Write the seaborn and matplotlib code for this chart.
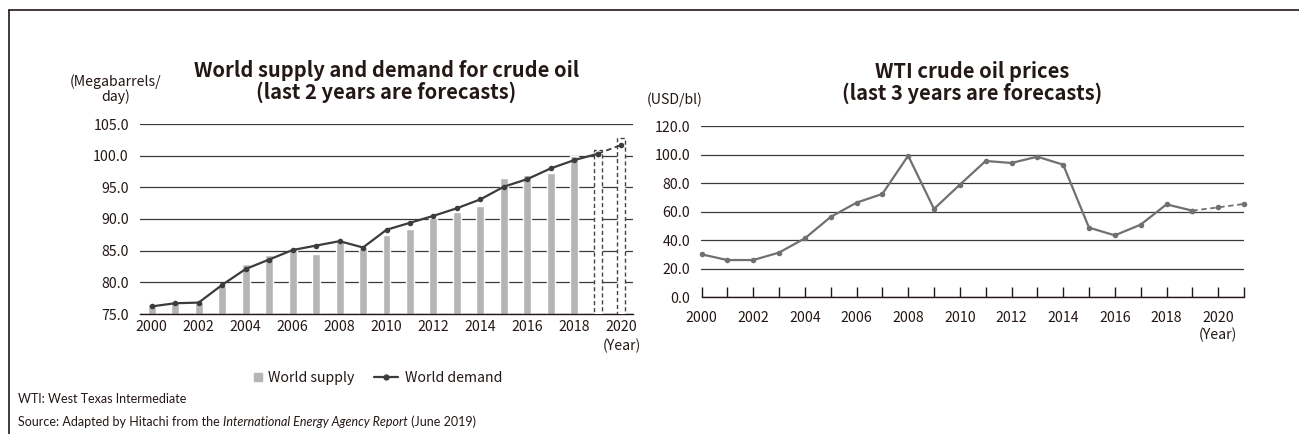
import numpy as np
import seaborn as sns
import matplotlib.pyplot as plt
from matplotlib.lines import Line2D

# data
years = list(range(2000, 2019))
supply = [76.6, 76.8, 76.7, 79.5, 82.9, 84.3, 85.3, 84.4, 86.3, 85.4,
          87.4, 88.5, 90.1, 91.1, 92.1, 96.4, 96.9, 97.3, 99.9]
forecast_years = [2019, 2020]
supply_forecast = [100.9, 102.8]
demand_years = list(range(2000, 2021))
demand = [76.2, 76.7, 76.8, 79.6, 82.1, 83.6, 85.1, 85.8, 86.5, 85.5, 88.3,
          89.4, 90.5, 91.7, 93.1, 95.1, 96.3, 98.0, 99.3, 100.3, 101.7]
price_years = list(range(2000, 2022))
price = [30.1, 26.1, 26.1, 31.3, 41.3, 56.3, 66.3, 72.4, 99.2, 61.9, 78.9,
         95.5, 94.1, 98.5, 92.9, 48.8, 43.4, 50.9, 65.1, 60.7, 63.0, 65.4]
first_forecast = 2019

sns.set_theme(style="white")
plt.rcParams['font.family'] = ['Noto Sans CJK JP', 'DejaVu Sans']
plt.rcParams['text.color'] = '#231815'
plt.rcParams['xtick.color'] = '#231815'
plt.rcParams['ytick.color'] = '#231815'

W, H = 1299, 434
fig = plt.figure(figsize=(W / 100, H / 100), dpi=100)


def box(x0, y0, x1, y1):
    return [x0 / W, 1 - y1 / H, (x1 - x0) / W, (y1 - y0) / H]


def fx(x):
    return x / W


def fy(y):
    return 1 - y / H


grid_c = '#3a3a3a'
dark = '#3c3c3c'
fs = 10.2

# ---- left chart: supply and demand
ax1 = fig.add_axes(box(140, 124, 633, 314))
sns.barplot(x=years, y=supply, native_scale=True, width=0.34,
            color='#b5b5b5', saturation=1, ax=ax1, zorder=2)
sns.barplot(x=forecast_years, y=supply_forecast, native_scale=True, width=0.34,
            color='white', saturation=1, ax=ax1, zorder=3)
for p in ax1.patches[len(years):]:
    p.set_edgecolor('#444444')
    p.set_linewidth(1.0)
    p.set_linestyle((0, (3, 2)))
    p.set_facecolor('white')

n = demand_years.index(first_forecast)
sns.lineplot(x=demand_years[:n + 1], y=demand[:n + 1], color=dark, lw=1.6,
             marker='o', markersize=4, markeredgewidth=0, ax=ax1, zorder=5)
sns.lineplot(x=demand_years[n:], y=demand[n:], color=dark, lw=1.3,
             linestyle=(0, (3, 2)), marker='o', markersize=4,
             markeredgewidth=0, ax=ax1, zorder=5)

ax1.set_xlim(1999.5, 2020.5)
ax1.set_ylim(75, 105)
ax1.set_yticks(np.arange(75, 106, 5))
ax1.set_yticklabels([f'{v:.1f}' for v in np.arange(75, 106, 5)])
ax1.set_xticks(range(2000, 2021, 2))
ax1.set_xticklabels([str(y) for y in range(2000, 2021, 2)])
ax1.tick_params(axis='both', length=0, labelsize=fs)
ax1.tick_params(axis='x', pad=4.5)
ax1.tick_params(axis='y', pad=8)
ax1.yaxis.grid(True, color=grid_c, lw=0.9)
ax1.set_axisbelow(True)
for s in ['top', 'right', 'left']:
    ax1.spines[s].set_visible(False)
ax1.spines['bottom'].set_color('#231815')
ax1.spines['bottom'].set_linewidth(1.0)
ax1.set_xlabel('')
ax1.set_ylabel('')

# ---- right chart: WTI price
ax2 = fig.add_axes(box(701.5, 126, 1244, 297.3))
m = price_years.index(first_forecast)
grey = '#707070'
sns.lineplot(x=price_years[:m + 1], y=price[:m + 1], color=grey, lw=1.6,
             marker='o', markersize=4, markeredgewidth=0, ax=ax2,
             zorder=5, clip_on=False)
sns.lineplot(x=price_years[m:], y=price[m:], color=grey, lw=1.3,
             linestyle=(0, (3, 2)), marker='o', markersize=4,
             markeredgewidth=0, ax=ax2, zorder=5, clip_on=False)
ax2.set_xlim(2000, 2021)
ax2.set_ylim(0, 120)
ax2.set_yticks(np.arange(0, 121, 20))
ax2.set_yticklabels([f'{v:.1f}' for v in np.arange(0, 121, 20)])
ax2.set_xticks(price_years)
ax2.set_xticklabels([str(y) if (y % 2 == 0 and y <= 2020) else ''
                     for y in price_years])
ax2.tick_params(axis='y', length=0, labelsize=fs, pad=8)
ax2.tick_params(axis='x', direction='in', length=7, width=1,
                color='#231815', labelsize=fs, pad=10, bottom=True)
ax2.yaxis.grid(True, color=grid_c, lw=0.9)
ax2.set_axisbelow(True)
for s in ['top', 'right', 'left']:
    ax2.spines[s].set_visible(False)
ax2.spines['bottom'].set_color('#231815')
ax2.spines['bottom'].set_linewidth(1.0)
ax2.set_xlabel('')
ax2.set_ylabel('')

# ---- titles and unit labels
fig.text(fx(386.5), fy(81.5),
         'World supply and demand for crude oil\n(last 2 years are forecasts)',
         ha='center', va='center', ma='center', fontsize=14.5,
         fontweight='bold', linespacing=1.0)
fig.text(fx(972.5), fy(82.5),
         'WTI crude oil prices\n(last 3 years are forecasts)',
         ha='center', va='center', ma='center', fontsize=14.5,
         fontweight='bold', linespacing=1.0)
fig.text(fx(116), fy(89), '(Megabarrels/\nday)', ha='center', va='center',
         ma='center', fontsize=fs, linespacing=1.0)
fig.text(fx(675), fy(100), '(USD/bl)', ha='center', va='center', fontsize=fs)
fig.text(fx(622), fy(346), '(Year)', ha='center', va='center', fontsize=fs)
fig.text(fx(1218), fy(335), '(Year)', ha='center', va='center', fontsize=fs)

# ---- legend (two pieces so each handle gets its own length)
sq = Line2D([], [], lw=0, marker='s', markersize=6, color='#b5b5b5')
ln = Line2D([], [], lw=1.6, marker='o', markersize=3.5, color=dark)
fig.legend([sq], ['World supply'], loc='center left',
           bbox_to_anchor=(fx(253), fy(378)), frameon=False, fontsize=fs,
           handlelength=0.7, handletextpad=0.36, borderpad=0,
           borderaxespad=0)
fig.legend([ln], ['World demand'], loc='center left',
           bbox_to_anchor=(fx(374), fy(378)), frameon=False, fontsize=fs,
           handlelength=1.7, handletextpad=0.5, borderpad=0,
           borderaxespad=0)

# ---- frame lines
fig.add_artist(Line2D([fx(9), 1], [fy(10), fy(10)], color='#231815', lw=1.2,
                      transform=fig.transFigure))
fig.add_artist(Line2D([fx(9), fx(9)], [fy(10), 0], color='#231815', lw=1.2,
                      transform=fig.transFigure))

# ---- footnotes
note_font = ['Lato', 'DejaVu Sans']
fig.text(fx(18), fy(399), 'WTI: West Texas Intermediate', ha='left',
         va='center', fontsize=9, family=note_font)
fig.canvas.draw()
renderer = fig.canvas.get_renderer()
x = fx(18)
for part, style in [('Source: Adapted by Hitachi from the ', 'normal'),
                    ('International Energy Agency Report', 'italic'),
                    (' (June 2019)', 'normal')]:
    t = fig.text(x, fy(422), part, ha='left', va='center', fontsize=9,
                 family=note_font, style=style)
    bb = t.get_window_extent(renderer)
    x = bb.x1 / W

fig.savefig('out.png', dpi=100)
